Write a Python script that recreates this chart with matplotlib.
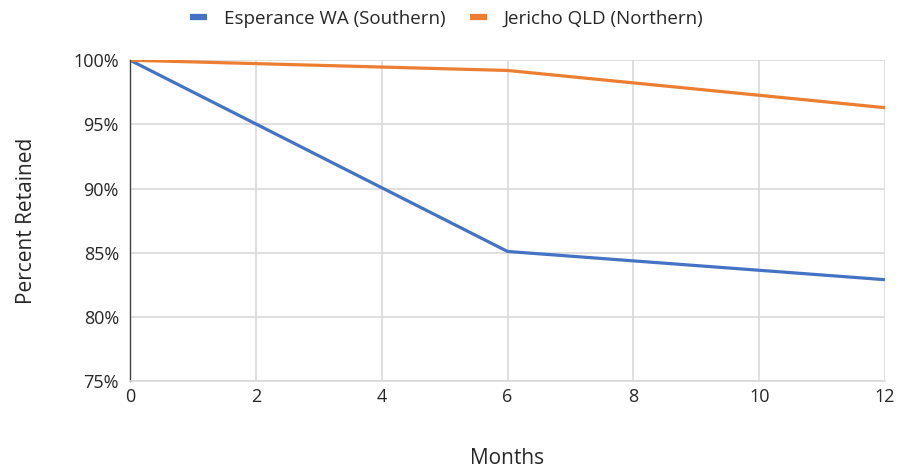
import matplotlib
matplotlib.use("Agg")
import matplotlib.pyplot as plt
from matplotlib.ticker import FuncFormatter

plt.rcParams['font.family'] = ['Open Sans', 'DejaVu Sans']

# data
months = [0, 6, 12]
esperance = [100.0, 85.1, 82.9]
jericho = [100.0, 99.2, 96.3]
labels = ["Esperance WA (Southern)", "Jericho QLD (Northern)"]

text_col = "#262626"
grid_col = "#d9d9d9"

fig = plt.figure(figsize=(8.97, 4.74), dpi=100)
ax = fig.add_axes([0.145, 0.196, 0.8416, 0.677])

ax.plot(months, esperance, color="#4472C4", lw=2.3, label=labels[0], solid_capstyle="butt")
ax.plot(months, jericho, color="#ED7D31", lw=2.3, label=labels[1], solid_capstyle="butt")

ax.set_xlim(0, 12)
ax.set_ylim(75, 100)
ax.set_xticks(range(0, 13, 2))
ax.set_yticks(range(75, 101, 5))
ax.yaxis.set_major_formatter(FuncFormatter(lambda v, p: f"{int(v)}%"))

ax.grid(True, color=grid_col, lw=1.2)
ax.set_axisbelow(True)
for s in ["top", "right"]:
    ax.spines[s].set_visible(False)
ax.spines["bottom"].set_color(grid_col)
ax.spines["bottom"].set_linewidth(1.2)
ax.spines["left"].set_color("#404040")
ax.spines["left"].set_linewidth(1.0)
ax.tick_params(length=0, labelsize=13, colors=text_col)
ax.tick_params(axis="y", pad=8)
ax.tick_params(axis="x", pad=5)

ax.set_ylabel("Percent Retained", fontsize=15, color=text_col, labelpad=26)
ax.set_xlabel("Months", fontsize=15, color=text_col, labelpad=30)

fig.legend(loc="upper center", bbox_to_anchor=(0.498, 1.015), ncol=2, frameon=False,
           fontsize=13.5, handlelength=0.9, handletextpad=0.9, columnspacing=1.3,
           labelcolor=text_col)
for line in fig.legends[0].get_lines():
    line.set_linewidth(4.5)

fig.savefig("out.png", dpi=100)
